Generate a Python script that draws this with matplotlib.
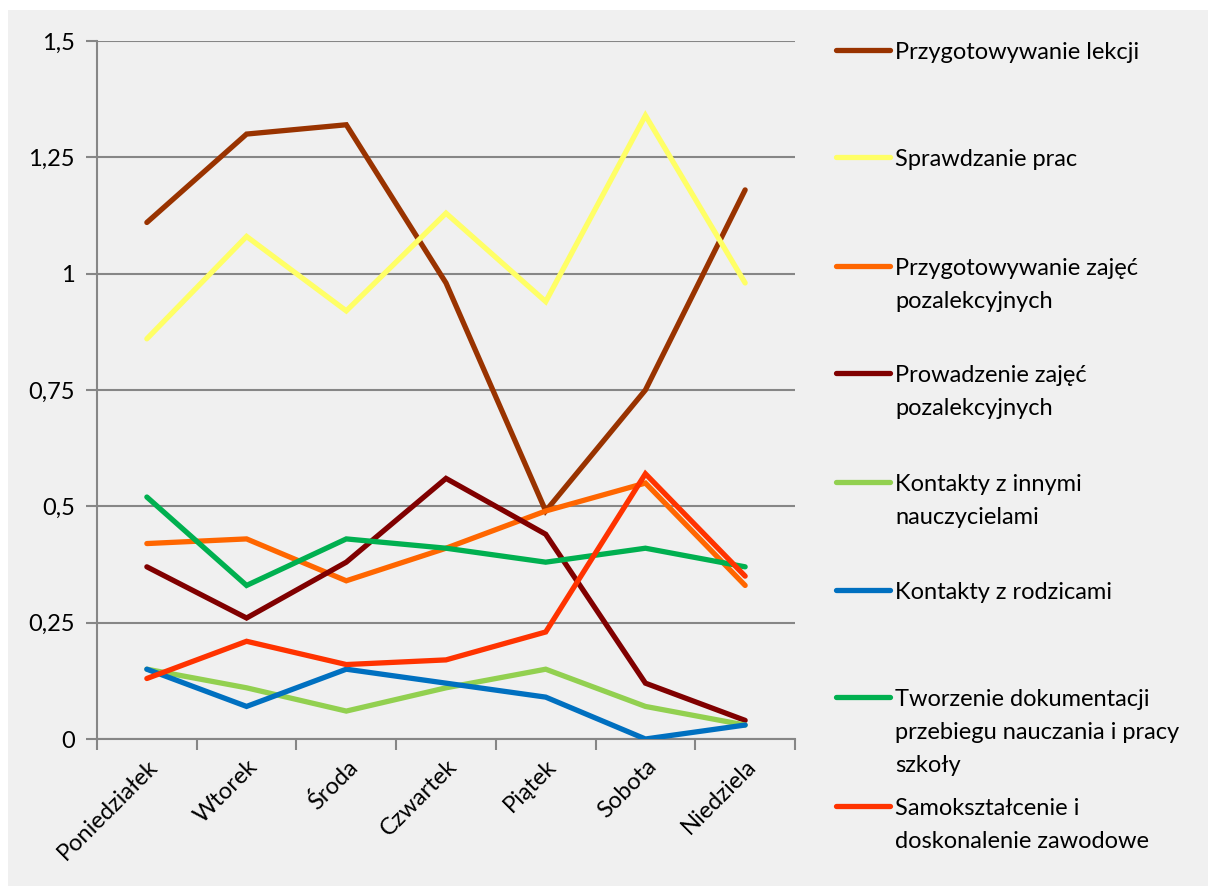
import matplotlib
matplotlib.use("Agg")
import matplotlib.pyplot as plt
from matplotlib.lines import Line2D
from matplotlib.patches import Rectangle
from matplotlib.ticker import FixedLocator

days = ["Poniedziałek", "Wtorek", "Środa", "Czwartek", "Piątek", "Sobota", "Niedziela"]

series_names = [
    "Przygotowywanie lekcji",
    "Sprawdzanie prac",
    "Przygotowywanie zajęć\npozalekcyjnych",
    "Prowadzenie zajęć\npozalekcyjnych",
    "Kontakty z innymi\nnauczycielami",
    "Kontakty z rodzicami",
    "Tworzenie dokumentacji\nprzebiegu nauczania i pracy\nszkoły",
    "Samokształcenie i\ndoskonalenie zawodowe",
]

przygotowywanie_lekcji = [1.11, 1.30, 1.32, 0.98, 0.49, 0.75, 1.18]
sprawdzanie_prac = [0.86, 1.08, 0.92, 1.13, 0.94, 1.34, 0.98]
przyg_zajec_poz = [0.42, 0.43, 0.34, 0.41, 0.49, 0.55, 0.33]
prowadzenie_zajec_poz = [0.37, 0.26, 0.38, 0.56, 0.44, 0.12, 0.04]
kontakty_nauczyciele = [0.15, 0.11, 0.06, 0.11, 0.15, 0.07, 0.03]
kontakty_rodzice = [0.15, 0.07, 0.15, 0.12, 0.09, 0.00, 0.03]
tworzenie_dokumentacji = [0.52, 0.33, 0.43, 0.41, 0.38, 0.41, 0.37]
samoksztalcenie = [0.13, 0.21, 0.16, 0.17, 0.23, 0.57, 0.35]

series_values = [
    przygotowywanie_lekcji, sprawdzanie_prac, przyg_zajec_poz, prowadzenie_zajec_poz,
    kontakty_nauczyciele, kontakty_rodzice, tworzenie_dokumentacji, samoksztalcenie,
]
colors = ["#993300", "#FFFF66", "#FF6600", "#800000", "#92D050", "#0070C0", "#00B050", "#FF3300"]

y_ticks = [0, 0.25, 0.5, 0.75, 1.0, 1.25, 1.5]
y_tick_labels = ["0", "0,25", "0,5", "0,75", "1", "1,25", "1,5"]

plt.rcParams["font.family"] = ["Lato", "DejaVu Sans"]
FS = 17

W, H = 1208, 886
fig = plt.figure(figsize=(W / 100, H / 100), dpi=100, facecolor="white")
bg = "#F0F0F0"
fig.patches.append(Rectangle((8 / W, 0), 1 - 8 / W, 1 - 10 / H, transform=fig.transFigure,
                             facecolor=bg, edgecolor="none", zorder=-10))

ax = fig.add_axes([97 / W, 1 - 739 / H, (795 - 97) / W, (739 - 41) / H])
ax.set_facecolor(bg)

x = list(range(len(days)))
for vals, c in zip(series_values, colors):
    ax.plot(x, vals, color=c, lw=3.8, solid_capstyle="round", solid_joinstyle="miter", zorder=3)

ax.set_xlim(-0.5, len(days) - 0.5)
ax.set_ylim(0, 1.5)
ax.set_yticks(y_ticks)
ax.set_yticklabels(y_tick_labels, fontsize=FS)
ax.yaxis.grid(True, color="#868686", lw=1.5)
ax.set_axisbelow(True)

ax.set_xticks(x)
ax.set_xticklabels(days, fontsize=FS, rotation=45, ha="right", rotation_mode="anchor")
ax.xaxis.set_minor_locator(FixedLocator([i - 0.5 for i in range(len(days) + 1)]))
ax.tick_params(axis="x", which="major", length=0, pad=12)
ax.tick_params(axis="x", which="minor", length=8, width=1.5, color="#868686", direction="out")
ax.tick_params(axis="y", length=8, width=1.5, color="#868686", direction="out", pad=8)

for s in ["top", "right"]:
    ax.spines[s].set_visible(False)
for s in ["left", "bottom"]:
    ax.spines[s].set_color("#868686")
    ax.spines[s].set_linewidth(1.5)

# Legend (manual layout to match spacing)
legend_y = [50, 157, 266, 373, 482, 590, 697, 806]
line_step = 33
for name, c, yy in zip(series_names, colors, legend_y):
    yf = 1 - yy / H
    fig.add_artist(Line2D([836 / W, 890 / W], [yf, yf], transform=fig.transFigure,
                          color=c, lw=3.8, solid_capstyle="round"))
    for k, part in enumerate(name.split("\n")):
        base = yy + 9 + k * line_step
        fig.text(895 / W, 1 - base / H, part, fontsize=FS, va="baseline", ha="left",
                 color="#000000")

fig.savefig("out.png", dpi=100, facecolor=fig.get_facecolor())
